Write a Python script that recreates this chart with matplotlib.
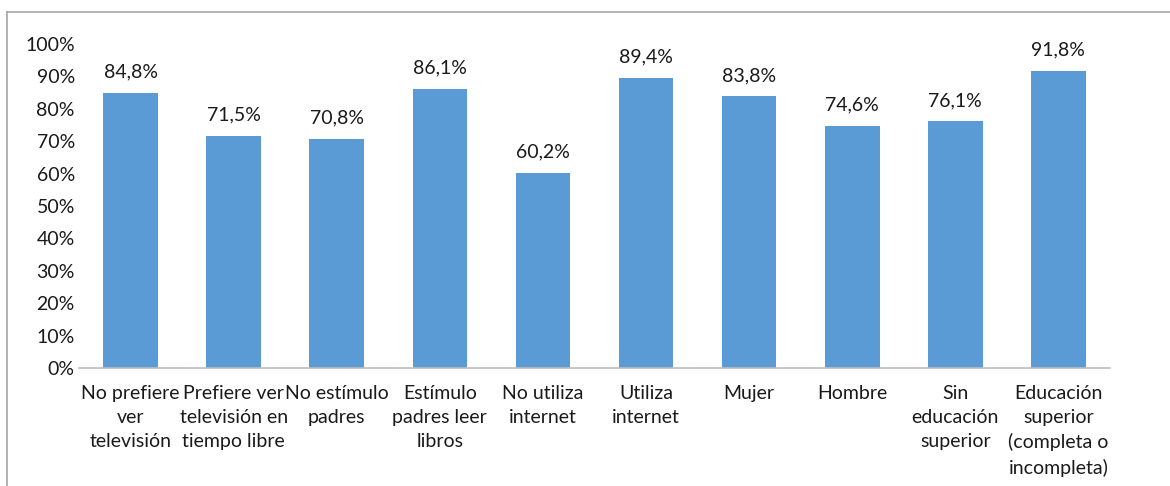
import matplotlib.pyplot as plt
from matplotlib.lines import Line2D

# data
categorias = ["No prefiere\nver\ntelevisión",
              "Prefiere ver\ntelevisión en\ntiempo libre",
              "No estímulo\npadres",
              "Estímulo\npadres leer\nlibros",
              "No utiliza\ninternet",
              "Utiliza\ninternet",
              "Mujer",
              "Hombre",
              "Sin\neducación\nsuperior",
              "Educación\nsuperior\n(completa o\nincompleta)"]
valores = [84.8, 71.5, 70.8, 86.1, 60.2, 89.4, 83.8, 74.6, 76.1, 91.8]
yticks = [0, 10, 20, 30, 40, 50, 60, 70, 80, 90, 100]

plt.rcParams['font.family'] = ['Lato', 'DejaVu Sans']
fs = 14

fig = plt.figure(figsize=(11.7, 4.86), dpi=100)
ax = fig.add_axes([0.0675, 0.2428, 0.8812, 0.6667])

x = range(len(valores))
barras = ax.bar(x, valores, width=0.53, color='#5B9BD5')

# labels above bars, decimal comma
for b, v in zip(barras, valores):
    ax.annotate(('%.1f%%' % v).replace('.', ','),
                (b.get_x() + b.get_width() / 2, b.get_height()),
                xytext=(0, 9), textcoords='offset points',
                ha='center', va='bottom', fontsize=fs, color='#1a1a1a')

ax.set_ylim(0, 100)
ax.set_xlim(-0.5, len(valores) - 0.5)
ax.set_yticks(yticks)
ax.set_yticklabels([str(t) + '%' for t in yticks], fontsize=fs, color='#1a1a1a')
ax.set_xticks(list(x))
ax.set_xticklabels(categorias, fontsize=fs, color='#1a1a1a', linespacing=1.5)
ax.tick_params(axis='both', length=0)
ax.tick_params(axis='x', pad=12)
ax.tick_params(axis='y', pad=3)

for s in ['top', 'right', 'left']:
    ax.spines[s].set_visible(False)
ax.spines['bottom'].set_color('#BFBFBF')
ax.spines['bottom'].set_linewidth(1.2)

# outer frame (top and left only visible in the crop)
fig.add_artist(Line2D([7 / 1170, 1], [1 - 12 / 486, 1 - 12 / 486],
                      transform=fig.transFigure, color='#A6A6A6', lw=1.2))
fig.add_artist(Line2D([7 / 1170, 7 / 1170], [0, 1 - 12 / 486],
                      transform=fig.transFigure, color='#A6A6A6', lw=1.2))

fig.savefig('out.png', dpi=100)
